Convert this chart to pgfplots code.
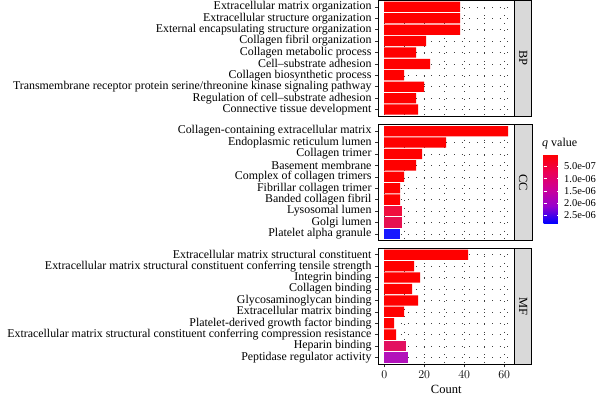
\documentclass[border=0pt]{standalone}
\usepackage{pgfplots}
\pgfplotsset{compat=1.18}
\usepackage{fontspec}
\setmainfont{Liberation Serif}
\definecolor{qred}{RGB}{255,0,0}
\definecolor{qlyso}{RGB}{240,14,62}
\definecolor{qgolgi}{RGB}{230,16,80}
\definecolor{qblue}{RGB}{24,24,255}
\definecolor{qhep}{RGB}{226,16,96}
\definecolor{qpep}{RGB}{178,18,186}
\definecolor{stripgray}{RGB}{217,217,217}
\pgfplotsset{
 panel/.style={
   scale only axis, width=136.4pt, height=116.4pt,
   xmin=-3.1, xmax=65.1, ymin=0.4, ymax=10.6, y dir=reverse,
   xbar, bar width=0.9, bar shift=0pt,
   ytick={1,...,10},
   xtick={0,20,40,60}, minor xtick={10,30,50},
   xmajorgrids, xminorgrids, ymajorgrids,
   major grid style={black!75, line width=0.5pt, dash pattern=on 0.6pt off 7pt},
   minor grid style={black!75, line width=0.5pt, dash pattern=on 0.6pt off 7pt},
   tick align=outside, major tick length=3pt, minor tick length=0pt,
   tick pos=left,
   tick style={black!80, line width=0.5pt},
   axis line style={black, line width=0.6pt},
   ticklabel style={font=\fontsize{11.9}{12}\selectfont},
   clip=false,
 },
}
\newcommand{\strip}[1]{%
  \draw[fill=stripgray, line width=0.6pt] (rel axis cs:1,0) rectangle ([xshift=17.4pt]rel axis cs:1,1);
  \node[rotate=-90, font=\fontsize{12.5}{13}\selectfont] at ([xshift=8.7pt]rel axis cs:1,0.5) {#1};
}
\begin{document}
\begin{tikzpicture}
\path[use as bounding box] (0,0) rectangle (600pt,397pt);
% BP
\begin{axis}[panel, name=bp, at={(378pt,280.6pt)}, anchor=south west,
  xticklabels={}, major x tick style={draw=none},
  yticklabels={Extracellular matrix organization,Extracellular structure organization,External encapsulating structure organization,Collagen fibril organization,Collagen metabolic process,Cell–substrate adhesion,Collagen biosynthetic process,Transmembrane receptor protein serine/threonine kinase signaling pathway,Regulation of cell–substrate adhesion,Connective tissue development}]
\addplot[fill=qred, draw=none] coordinates {(38,1) (38,2) (38,3) (21,4) (16,5) (23,6) (10,7) (20,8) (16,9) (17,10)};
\strip{BP}
\end{axis}
% CC
\begin{axis}[panel, name=cc, at={(378pt,156.3pt)}, anchor=south west,
  xticklabels={}, major x tick style={draw=none},
  yticklabels={Collagen-containing extracellular matrix,Endoplasmic reticulum lumen,Collagen trimer,Basement membrane,Complex of collagen trimers,Fibrillar collagen trimer,Banded collagen fibril,Lysosomal lumen,Golgi lumen,Platelet alpha granule},
  colormap={qmap}{rgb255=(255,0,0) rgb255=(236,0,84) rgb255=(205,0,150) rgb255=(150,0,205) rgb255=(0,0,255)},
  point meta min=0, point meta max=28.3,
  colorbar,
  colorbar style={
    at={(parent axis.north east)}, anchor=north west, xshift=20.7pt, yshift=-30pt,
    scale only axis, width=17pt, height=69pt,
    y dir=reverse,
    ytick={5,10,15,20,25},
    yticklabels={5.0e-07,1.0e-06,1.5e-06,2.0e-06,2.5e-06},
    yticklabel pos=right, ytick pos=both,
    tick align=inside, major tick length=3.5pt,
    tick style={white, line width=0.6pt},
    axis line style={draw=none},
    ticklabel style={font=\fontsize{10.5}{11}\selectfont},
  }]
\addplot[fill=qred, draw=none] coordinates {(62,1) (31,2) (19,3) (16,4) (10,5) (8,6) (8,7)};
\addplot[fill=qlyso, draw=none] coordinates {(9,8)};
\addplot[fill=qgolgi, draw=none] coordinates {(9,9)};
\addplot[fill=qblue, draw=none] coordinates {(8,10)};
\strip{CC}
\end{axis}
\node[anchor=base west, inner sep=0pt, font=\fontsize{12}{13}\selectfont] at (542pt,251pt) {\textit{q} value};
% MF
\begin{axis}[panel, name=mf, at={(378pt,32.7pt)}, anchor=south west,
  xlabel={Count}, xlabel style={font=\fontsize{12.5}{13}\selectfont},
  yticklabels={Extracellular matrix structural constituent,Extracellular matrix structural constituent conferring tensile strength,Integrin binding,Collagen binding,Glycosaminoglycan binding,Extracellular matrix binding,Platelet-derived growth factor binding,Extracellular matrix structural constituent conferring compression resistance,Heparin binding,Peptidase regulator activity}]
\addplot[fill=qred, draw=none] coordinates {(42,1) (15,2) (18,3) (14,4) (17,5) (10,6) (5,7) (6,8)};
\addplot[fill=qhep, draw=none] coordinates {(11,9)};
\addplot[fill=qpep, draw=none] coordinates {(12,10)};
\strip{MF}
\end{axis}
\end{tikzpicture}
\end{document}
